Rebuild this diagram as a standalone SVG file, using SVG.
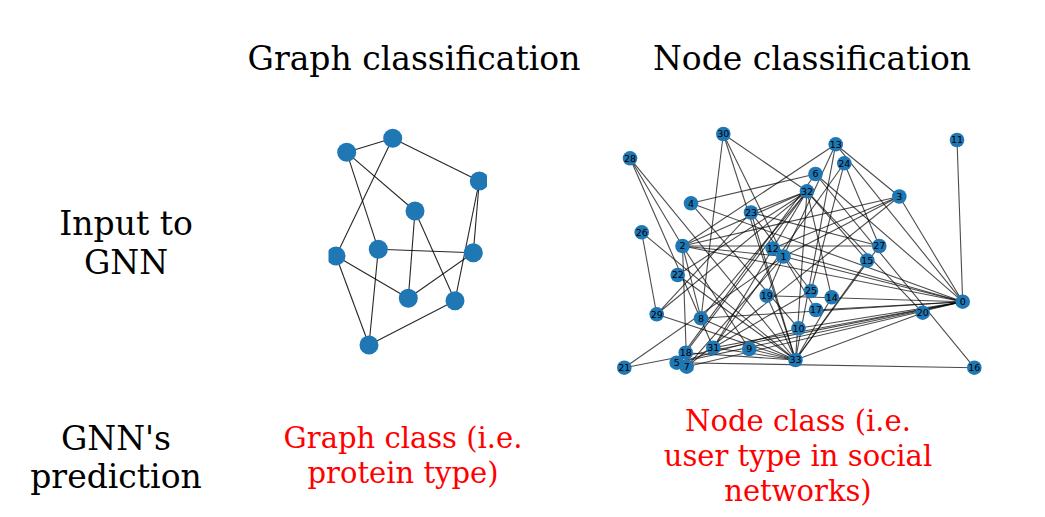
<svg xmlns="http://www.w3.org/2000/svg" width="1045" height="517" viewBox="0 0 1045 517">
<style>
.t{font-family:"DejaVu Serif","Liberation Serif",serif;text-anchor:middle;fill:#000}
.r{fill:#ff0000}
.ge line{stroke:#000;stroke-opacity:0.85;stroke-width:1.1}
.ke line{stroke:#000;stroke-opacity:0.7;stroke-width:1.1}
.gn circle{fill:#1f77b4}
.kn circle{fill:#1f77b4}
.kn text{font-family:"DejaVu Sans","Liberation Sans",sans-serif;font-size:9.5px;text-anchor:middle;fill:#000}
</style>
<defs>
<clipPath id="lc"><rect x="328.5" y="110" width="158.5" height="260"/></clipPath>
</defs>
<rect width="1045" height="517" fill="#fff"/>
<g id="labels">
<text class="t" x="414" y="70" font-size="33">Graph classification</text>
<text class="t" x="812" y="70" font-size="33">Node classification</text>
<text class="t" x="126" y="235" font-size="33">Input to</text>
<text class="t" x="126" y="274" font-size="33">GNN</text>
<text class="t" x="116" y="450" font-size="33">GNN's</text>
<text class="t" x="116" y="488" font-size="33">prediction</text>
<text class="t r" x="403" y="448" font-size="29">Graph class (i.e.</text>
<text class="t r" x="403" y="483" font-size="29">protein type)</text>
<text class="t r" x="798" y="431" font-size="29">Node class (i.e.</text>
<text class="t r" x="798" y="466" font-size="29">user type in social</text>
<text class="t r" x="798" y="501" font-size="29">networks)</text>
</g>
<g id="graph-left" clip-path="url(#lc)">
<g class="ge" id="left-edges">
<line x1="346.7" y1="152.3" x2="392.7" y2="138.3"/>
<line x1="346.7" y1="152.3" x2="378.3" y2="249.3"/>
<line x1="346.7" y1="152.3" x2="415" y2="211"/>
<line x1="392.7" y1="138.3" x2="479.3" y2="181"/>
<line x1="392.7" y1="138.3" x2="336" y2="256"/>
<line x1="479.3" y1="181" x2="473.3" y2="252.7"/>
<line x1="479.3" y1="181" x2="455" y2="300.7"/>
<line x1="415" y1="211" x2="408.3" y2="298.3"/>
<line x1="415" y1="211" x2="455" y2="300.7"/>
<line x1="378.3" y1="249.3" x2="473.3" y2="252.7"/>
<line x1="378.3" y1="249.3" x2="369" y2="345"/>
<line x1="336" y1="256" x2="408.3" y2="298.3"/>
<line x1="336" y1="256" x2="369" y2="345"/>
<line x1="473.3" y1="252.7" x2="408.3" y2="298.3"/>
<line x1="455" y1="300.7" x2="369" y2="345"/>
</g>
<g class="gn" id="left-nodes">
<circle id="g0" cx="346.7" cy="152.3" r="9.5"/>
<circle id="g1" cx="392.7" cy="138.3" r="9.5"/>
<circle id="g2" cx="479.3" cy="181" r="9.5"/>
<circle id="g3" cx="415" cy="211" r="9.5"/>
<circle id="g4" cx="336" cy="256" r="9.5"/>
<circle id="g5" cx="378.3" cy="249.3" r="9.5"/>
<circle id="g6" cx="473.3" cy="252.7" r="9.5"/>
<circle id="g7" cx="408.3" cy="298.3" r="9.5"/>
<circle id="g8" cx="455" cy="300.7" r="9.5"/>
<circle id="g9" cx="369" cy="345" r="9.5"/>
</g>
</g>
<g class="ke" id="karate-edges">
<line x1="962.7" y1="301.7" x2="783.5" y2="256.5"/>
<line x1="962.7" y1="301.7" x2="682.5" y2="246"/>
<line x1="962.7" y1="301.7" x2="899.3" y2="196.5"/>
<line x1="962.7" y1="301.7" x2="691" y2="203.3"/>
<line x1="962.7" y1="301.7" x2="676.7" y2="362.7"/>
<line x1="962.7" y1="301.7" x2="815.5" y2="174"/>
<line x1="962.7" y1="301.7" x2="686.7" y2="366.7"/>
<line x1="962.7" y1="301.7" x2="701" y2="318.3"/>
<line x1="962.7" y1="301.7" x2="798.5" y2="328.3"/>
<line x1="962.7" y1="301.7" x2="957" y2="140"/>
<line x1="962.7" y1="301.7" x2="772.7" y2="248.5"/>
<line x1="962.7" y1="301.7" x2="835.7" y2="144.3"/>
<line x1="962.7" y1="301.7" x2="816" y2="310"/>
<line x1="962.7" y1="301.7" x2="766.7" y2="295.7"/>
<line x1="962.7" y1="301.7" x2="624.3" y2="367.7"/>
<line x1="962.7" y1="301.7" x2="713.3" y2="347.7"/>
<line x1="783.5" y1="256.5" x2="682.5" y2="246"/>
<line x1="783.5" y1="256.5" x2="899.3" y2="196.5"/>
<line x1="783.5" y1="256.5" x2="686.7" y2="366.7"/>
<line x1="783.5" y1="256.5" x2="835.7" y2="144.3"/>
<line x1="783.5" y1="256.5" x2="816" y2="310"/>
<line x1="783.5" y1="256.5" x2="766.7" y2="295.7"/>
<line x1="783.5" y1="256.5" x2="624.3" y2="367.7"/>
<line x1="783.5" y1="256.5" x2="723.3" y2="134"/>
<line x1="682.5" y1="246" x2="899.3" y2="196.5"/>
<line x1="682.5" y1="246" x2="686.7" y2="366.7"/>
<line x1="682.5" y1="246" x2="701" y2="318.3"/>
<line x1="682.5" y1="246" x2="749.3" y2="349"/>
<line x1="682.5" y1="246" x2="835.7" y2="144.3"/>
<line x1="682.5" y1="246" x2="879.3" y2="246"/>
<line x1="682.5" y1="246" x2="630" y2="158.3"/>
<line x1="682.5" y1="246" x2="807" y2="191.3"/>
<line x1="899.3" y1="196.5" x2="686.7" y2="366.7"/>
<line x1="899.3" y1="196.5" x2="772.7" y2="248.5"/>
<line x1="899.3" y1="196.5" x2="835.7" y2="144.3"/>
<line x1="691" y1="203.3" x2="815.5" y2="174"/>
<line x1="691" y1="203.3" x2="798.5" y2="328.3"/>
<line x1="676.7" y1="362.7" x2="815.5" y2="174"/>
<line x1="676.7" y1="362.7" x2="798.5" y2="328.3"/>
<line x1="676.7" y1="362.7" x2="974.3" y2="367.7"/>
<line x1="815.5" y1="174" x2="974.3" y2="367.7"/>
<line x1="701" y1="318.3" x2="723.3" y2="134"/>
<line x1="701" y1="318.3" x2="807" y2="191.3"/>
<line x1="701" y1="318.3" x2="795.5" y2="360"/>
<line x1="749.3" y1="349" x2="795.5" y2="360"/>
<line x1="835.7" y1="144.3" x2="795.5" y2="360"/>
<line x1="831.7" y1="297.3" x2="807" y2="191.3"/>
<line x1="831.7" y1="297.3" x2="795.5" y2="360"/>
<line x1="867.2" y1="260.5" x2="807" y2="191.3"/>
<line x1="867.2" y1="260.5" x2="795.5" y2="360"/>
<line x1="685.7" y1="352.7" x2="807" y2="191.3"/>
<line x1="685.7" y1="352.7" x2="795.5" y2="360"/>
<line x1="766.7" y1="295.7" x2="795.5" y2="360"/>
<line x1="922.7" y1="312.7" x2="807" y2="191.3"/>
<line x1="922.7" y1="312.7" x2="795.5" y2="360"/>
<line x1="677.7" y1="275" x2="807" y2="191.3"/>
<line x1="677.7" y1="275" x2="795.5" y2="360"/>
<line x1="751" y1="212.5" x2="811" y2="291"/>
<line x1="751" y1="212.5" x2="879.3" y2="246"/>
<line x1="751" y1="212.5" x2="656.7" y2="314.3"/>
<line x1="751" y1="212.5" x2="807" y2="191.3"/>
<line x1="751" y1="212.5" x2="795.5" y2="360"/>
<line x1="844.3" y1="163.3" x2="811" y2="291"/>
<line x1="844.3" y1="163.3" x2="879.3" y2="246"/>
<line x1="844.3" y1="163.3" x2="713.3" y2="347.7"/>
<line x1="811" y1="291" x2="713.3" y2="347.7"/>
<line x1="641.7" y1="232.3" x2="656.7" y2="314.3"/>
<line x1="641.7" y1="232.3" x2="795.5" y2="360"/>
<line x1="879.3" y1="246" x2="795.5" y2="360"/>
<line x1="630" y1="158.3" x2="713.3" y2="347.7"/>
<line x1="630" y1="158.3" x2="795.5" y2="360"/>
<line x1="656.7" y1="314.3" x2="807" y2="191.3"/>
<line x1="656.7" y1="314.3" x2="795.5" y2="360"/>
<line x1="723.3" y1="134" x2="807" y2="191.3"/>
<line x1="723.3" y1="134" x2="795.5" y2="360"/>
<line x1="713.3" y1="347.7" x2="807" y2="191.3"/>
<line x1="713.3" y1="347.7" x2="795.5" y2="360"/>
<line x1="807" y1="191.3" x2="795.5" y2="360"/>
</g>
<g class="kn" id="karate-nodes">
<g id="k0"><circle cx="962.7" cy="301.7" r="7.3"/><text x="962.7" y="305">0</text></g>
<g id="k1"><circle cx="783.5" cy="256.5" r="7.3"/><text x="783.5" y="259.8">1</text></g>
<g id="k2"><circle cx="682.5" cy="246" r="7.3"/><text x="682.5" y="249.3">2</text></g>
<g id="k3"><circle cx="899.3" cy="196.5" r="7.3"/><text x="899.3" y="199.8">3</text></g>
<g id="k4"><circle cx="691" cy="203.3" r="7.3"/><text x="691" y="206.6">4</text></g>
<g id="k5"><circle cx="676.7" cy="362.7" r="7.3"/><text x="676.7" y="366">5</text></g>
<g id="k6"><circle cx="815.5" cy="174" r="7.3"/><text x="815.5" y="177.3">6</text></g>
<g id="k7"><circle cx="686.7" cy="366.7" r="7.3"/><text x="686.7" y="370">7</text></g>
<g id="k8"><circle cx="701" cy="318.3" r="7.3"/><text x="701" y="321.6">8</text></g>
<g id="k9"><circle cx="749.3" cy="349" r="7.3"/><text x="749.3" y="352.3">9</text></g>
<g id="k10"><circle cx="798.5" cy="328.3" r="7.3"/><text x="798.5" y="331.6">10</text></g>
<g id="k11"><circle cx="957" cy="140" r="7.3"/><text x="957" y="143.3">11</text></g>
<g id="k12"><circle cx="772.7" cy="248.5" r="7.3"/><text x="772.7" y="251.8">12</text></g>
<g id="k13"><circle cx="835.7" cy="144.3" r="7.3"/><text x="835.7" y="147.6">13</text></g>
<g id="k14"><circle cx="831.7" cy="297.3" r="7.3"/><text x="831.7" y="300.6">14</text></g>
<g id="k15"><circle cx="867.2" cy="260.5" r="7.3"/><text x="867.2" y="263.8">15</text></g>
<g id="k16"><circle cx="974.3" cy="367.7" r="7.3"/><text x="974.3" y="371">16</text></g>
<g id="k17"><circle cx="816" cy="310" r="7.3"/><text x="816" y="313.3">17</text></g>
<g id="k18"><circle cx="685.7" cy="352.7" r="7.3"/><text x="685.7" y="356">18</text></g>
<g id="k19"><circle cx="766.7" cy="295.7" r="7.3"/><text x="766.7" y="299">19</text></g>
<g id="k20"><circle cx="922.7" cy="312.7" r="7.3"/><text x="922.7" y="316">20</text></g>
<g id="k21"><circle cx="624.3" cy="367.7" r="7.3"/><text x="624.3" y="371">21</text></g>
<g id="k22"><circle cx="677.7" cy="275" r="7.3"/><text x="677.7" y="278.3">22</text></g>
<g id="k23"><circle cx="751" cy="212.5" r="7.3"/><text x="751" y="215.8">23</text></g>
<g id="k24"><circle cx="844.3" cy="163.3" r="7.3"/><text x="844.3" y="166.6">24</text></g>
<g id="k25"><circle cx="811" cy="291" r="7.3"/><text x="811" y="294.3">25</text></g>
<g id="k26"><circle cx="641.7" cy="232.3" r="7.3"/><text x="641.7" y="235.6">26</text></g>
<g id="k27"><circle cx="879.3" cy="246" r="7.3"/><text x="879.3" y="249.3">27</text></g>
<g id="k28"><circle cx="630" cy="158.3" r="7.3"/><text x="630" y="161.6">28</text></g>
<g id="k29"><circle cx="656.7" cy="314.3" r="7.3"/><text x="656.7" y="317.6">29</text></g>
<g id="k30"><circle cx="723.3" cy="134" r="7.3"/><text x="723.3" y="137.3">30</text></g>
<g id="k31"><circle cx="713.3" cy="347.7" r="7.3"/><text x="713.3" y="351">31</text></g>
<g id="k32"><circle cx="807" cy="191.3" r="7.3"/><text x="807" y="194.6">32</text></g>
<g id="k33"><circle cx="795.5" cy="360" r="7.3"/><text x="795.5" y="363.3">33</text></g>
</g>
</svg>
